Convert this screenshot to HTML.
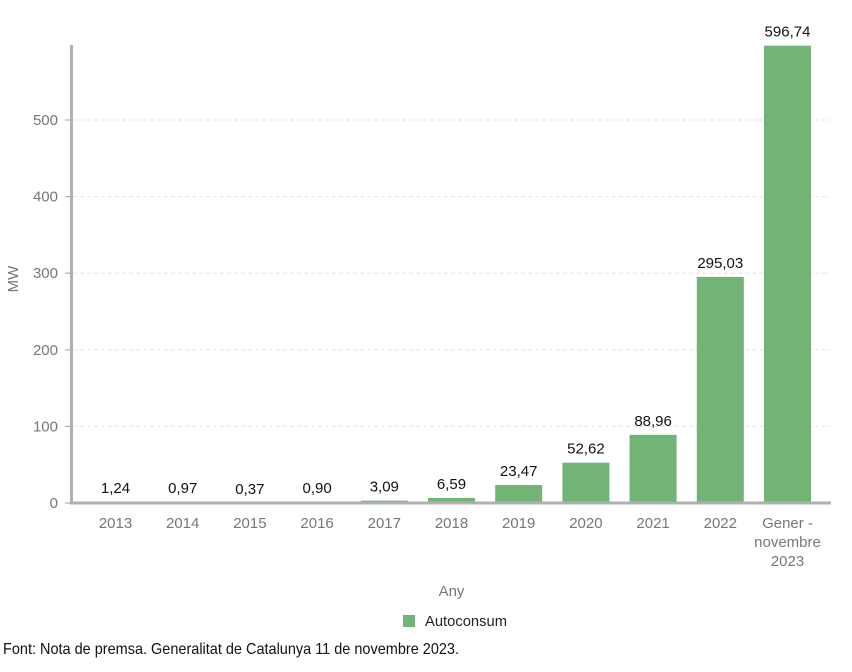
<!DOCTYPE html>
<html><head><meta charset="utf-8"><style>
html,body{margin:0;padding:0;background:#fff;}
svg{display:block;font-family:"Liberation Sans",sans-serif;}
</style></head><body>
<svg width="852" height="672" viewBox="0 0 852 672" xmlns="http://www.w3.org/2000/svg">
<rect width="852" height="672" fill="#fff"/>
<g stroke="#e2e2e2" stroke-width="1" stroke-dasharray="4 3">
<line x1="73" y1="426.4" x2="830" y2="426.4"/>
<line x1="73" y1="349.8" x2="830" y2="349.8"/>
<line x1="73" y1="273.2" x2="830" y2="273.2"/>
<line x1="73" y1="196.6" x2="830" y2="196.6"/>
<line x1="73" y1="120" x2="830" y2="120"/>
</g>
<g stroke="#b0b0b0" stroke-width="1.2">
<line x1="65" y1="503" x2="71" y2="503"/>
<line x1="65" y1="426.4" x2="71" y2="426.4"/>
<line x1="65" y1="349.8" x2="71" y2="349.8"/>
<line x1="65" y1="273.2" x2="71" y2="273.2"/>
<line x1="65" y1="196.6" x2="71" y2="196.6"/>
<line x1="65" y1="120" x2="71" y2="120"/>
</g>
<g font-size="15" fill="#777" text-anchor="end">
<text x="58" y="508">0</text>
<text x="58" y="431.4">100</text>
<text x="58" y="354.8">200</text>
<text x="58" y="278.2">300</text>
<text x="58" y="201.6">400</text>
<text x="58" y="125">500</text>
</g>
<text transform="translate(18,279) rotate(-90)" font-size="15" fill="#777" text-anchor="middle">MW</text>
<g fill="#72b376">
<rect x="92" y="502.05" width="47" height="0.95"/>
<rect x="159.2" y="502.26" width="47" height="0.74"/>
<rect x="226.4" y="502.72" width="47" height="0.28"/>
<rect x="293.6" y="502.31" width="47" height="0.69"/>
<rect x="360.8" y="500.63" width="47" height="2.37"/>
<rect x="428" y="497.95" width="47" height="5.05"/>
<rect x="495.2" y="485.01" width="47" height="17.99"/>
<rect x="562.4" y="462.67" width="47" height="40.33"/>
<rect x="629.6" y="434.82" width="47" height="68.18"/>
<rect x="696.8" y="276.9" width="47" height="226.1"/>
<rect x="764" y="45.7" width="47" height="457.3"/>
</g>
<g font-size="15" fill="#111" text-anchor="middle">
<text x="115.5" y="493">1,24</text>
<text x="182.7" y="493">0,97</text>
<text x="249.9" y="494">0,37</text>
<text x="317.1" y="493">0,90</text>
<text x="384.3" y="491.6">3,09</text>
<text x="451.5" y="489">6,59</text>
<text x="518.7" y="476">23,47</text>
<text x="585.9" y="453.7">52,62</text>
<text x="653.1" y="425.8">88,96</text>
<text x="720.3" y="267.9">295,03</text>
<text x="787.5" y="36.7">596,74</text>
</g>
<line x1="71.5" y1="45" x2="71.5" y2="504.5" stroke="#b0b0b0" stroke-width="3"/>
<line x1="70" y1="503" x2="831" y2="503" stroke="#b0b0b0" stroke-width="3"/>
<g font-size="15" fill="#777" text-anchor="middle">
<text x="115.5" y="528">2013</text>
<text x="182.7" y="528">2014</text>
<text x="249.9" y="528">2015</text>
<text x="317.1" y="528">2016</text>
<text x="384.3" y="528">2017</text>
<text x="451.5" y="528">2018</text>
<text x="518.7" y="528">2019</text>
<text x="585.9" y="528">2020</text>
<text x="653.1" y="528">2021</text>
<text x="720.3" y="528">2022</text>
<text x="787.5" y="528">Gener -</text>
<text x="787.5" y="547">novembre</text>
<text x="787.5" y="566">2023</text>
<text x="451.5" y="596">Any</text>
</g>
<rect x="403" y="615" width="12" height="12" fill="#72b376"/>
<text x="425" y="626" font-size="15" fill="#222" textLength="82" lengthAdjust="spacingAndGlyphs">Autoconsum</text>
<text x="3" y="654" font-size="16" fill="#111" textLength="456" lengthAdjust="spacingAndGlyphs">Font: Nota de premsa. Generalitat de Catalunya 11 de novembre 2023.</text>
</svg>
</body></html>
